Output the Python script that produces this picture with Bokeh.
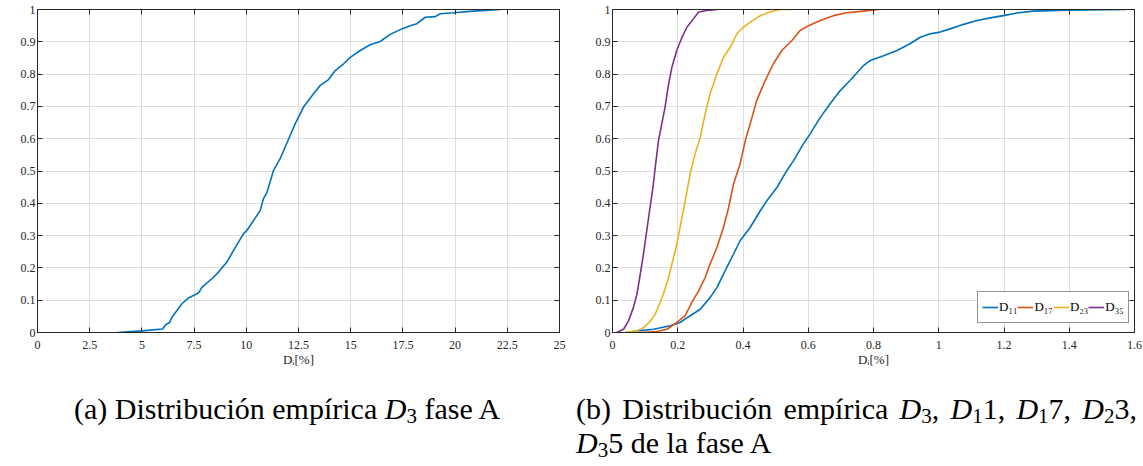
import math
from bokeh.plotting import figure
from bokeh.models import (Range1d, FixedTicker, LinearAxis, Label, Legend, LegendItem, Div)
from bokeh.layouts import row, column
from bokeh.embed import file_html
from bokeh.resources import INLINE

# ---------------- data ----------------
y_ticks = [0, 0.1, 0.2, 0.3, 0.4, 0.5, 0.6, 0.7, 0.8, 0.9, 1]
y_tick_labels = ["0", "0.1", "0.2", "0.3", "0.4", "0.5", "0.6", "0.7", "0.8", "0.9", "1"]

xa_ticks = [0, 2.5, 5, 7.5, 10, 12.5, 15, 17.5, 20, 22.5, 25]
xa_tick_labels = ["0", "2.5", "5", "7.5", "10", "12.5", "15", "17.5", "20", "22.5", "25"]

xb_ticks = [0, 0.2, 0.4, 0.6, 0.8, 1, 1.2, 1.4, 1.6]
xb_tick_labels = ["0", "0.2", "0.4", "0.6", "0.8", "1", "1.2", "1.4", "1.6"]

d3_x = [3.83, 5.0, 5.99, 6.15, 6.31, 6.44, 6.92, 7.23, 7.71, 7.87, 8.43, 8.67, 9.07, 9.39,
        9.87, 10.03, 10.67, 10.82, 10.99, 11.30, 11.62, 12.10, 12.34, 12.74, 13.22, 13.54,
        13.94, 14.26, 14.66, 14.98, 15.46, 15.93, 16.41, 16.89, 17.45, 17.85, 18.17, 18.57,
        19.05, 19.29, 19.92, 20.88, 22.16]
d3_y = [0.0, 0.005, 0.011, 0.025, 0.03, 0.047, 0.089, 0.107, 0.122, 0.14, 0.171, 0.187,
        0.218, 0.254, 0.306, 0.316, 0.378, 0.414, 0.434, 0.501, 0.538, 0.61, 0.646, 0.698,
        0.739, 0.765, 0.783, 0.811, 0.832, 0.852, 0.873, 0.891, 0.901, 0.923, 0.94, 0.95,
        0.956, 0.976, 0.978, 0.987, 0.99, 0.995, 1.0]

d11_x = [0.044, 0.075, 0.126, 0.177, 0.207, 0.238, 0.269, 0.299, 0.32, 0.345, 0.371, 0.391,
         0.422, 0.453, 0.473, 0.504, 0.534, 0.555, 0.585, 0.606, 0.637, 0.667, 0.698, 0.728,
         0.769, 0.79, 0.831, 0.872, 0.912, 0.943, 0.974, 1.004, 1.035, 1.076, 1.117, 1.158,
         1.198, 1.24, 1.29, 1.393, 1.575]
d11_y = [0, 0.005, 0.01, 0.021, 0.031, 0.052, 0.072, 0.108, 0.139, 0.191, 0.243, 0.284,
         0.325, 0.377, 0.408, 0.449, 0.501, 0.532, 0.584, 0.615, 0.666, 0.708, 0.749, 0.78,
         0.826, 0.842, 0.857, 0.873, 0.894, 0.914, 0.925, 0.93, 0.94, 0.954, 0.966, 0.974,
         0.981, 0.989, 0.995, 0.998, 1.0]

d17_x = [0.085, 0.136, 0.167, 0.197, 0.223, 0.243, 0.264, 0.284, 0.299, 0.32, 0.34, 0.356,
         0.371, 0.391, 0.407, 0.422, 0.442, 0.468, 0.493, 0.519, 0.55, 0.575, 0.601, 0.637,
         0.677, 0.718, 0.769, 0.815]
d17_y = [0, 0.003, 0.01, 0.031, 0.052, 0.093, 0.129, 0.17, 0.212, 0.263, 0.325, 0.387,
         0.46, 0.522, 0.594, 0.646, 0.718, 0.78, 0.832, 0.873, 0.904, 0.935, 0.95, 0.966,
         0.981, 0.99, 0.995, 1.0]

d23_x = [0.039, 0.075, 0.095, 0.115, 0.131, 0.146, 0.156, 0.172, 0.182, 0.195, 0.207, 0.223,
         0.238, 0.253, 0.269, 0.284, 0.299, 0.32, 0.34, 0.361, 0.381, 0.401, 0.422, 0.453,
         0.483, 0.514, 0.55]
d23_y = [0, 0.005, 0.015, 0.034, 0.057, 0.093, 0.119, 0.17, 0.212, 0.263, 0.325, 0.408,
         0.491, 0.553, 0.604, 0.677, 0.739, 0.8, 0.852, 0.883, 0.925, 0.945, 0.961, 0.981,
         0.992, 1.0, 1.0]

d35_x = [0.013, 0.034, 0.049, 0.064, 0.075, 0.085, 0.095, 0.105, 0.115, 0.124, 0.131, 0.141,
         0.151, 0.161, 0.172, 0.182, 0.197, 0.213, 0.228, 0.248, 0.264, 0.289, 0.32]
d35_y = [0, 0.01, 0.036, 0.077, 0.119, 0.181, 0.243, 0.315, 0.387, 0.449, 0.511, 0.594,
         0.646, 0.697, 0.77, 0.821, 0.873, 0.914, 0.945, 0.971, 0.992, 0.997, 1.0]

series_b_names = ["D₁₁", "D₁₇", "D₂₃", "D₃₅"]
series_b_colors = ["#0072BD", "#D95319", "#EDB120", "#7E2F8E"]

y_title = "Distribución empírica acumulada"
x_title = "Dᵢ[%]"

# ---------------- styling ----------------
AX = "#262626"
GRID = "#dedede"
FONT = "Liberation Serif"
FIG_H = 372
FRAME_H = 323
FRAME_W = 522


def hidden_axis(ticks):
    return LinearAxis(ticker=FixedTicker(ticks=ticks), major_label_text_font_size="0px",
                      major_label_text_color=None, major_label_standoff=0,
                      major_tick_in=5, major_tick_out=0, minor_tick_in=0, minor_tick_out=0,
                      axis_line_color=AX, major_tick_line_color=AX)


def make_fig(width, bl, xr, xticks, xlabels, ylab_x):
    p = figure(width=width, height=FIG_H, x_range=Range1d(*xr), y_range=Range1d(0, 1),
               output_backend="svg", toolbar_location=None,
               min_border_left=bl, min_border_right=width - bl - FRAME_W, min_border_top=9,
               min_border_bottom=FIG_H - 9 - FRAME_H)
    p.background_fill_color = "white"
    p.border_fill_color = "white"
    p.outline_line_color = AX
    p.outline_line_width = 1

    xa = p.below[0]
    ya = p.left[0]
    xa.ticker = FixedTicker(ticks=xticks)
    xa.major_label_overrides = dict(zip(xticks, xlabels))
    ya.ticker = FixedTicker(ticks=y_ticks)
    ya.major_label_overrides = dict(zip(y_ticks, y_tick_labels))
    for ax in (xa, ya):
        ax.major_tick_in = 5
        ax.major_tick_out = 0
        ax.minor_tick_in = 0
        ax.minor_tick_out = 0
        ax.axis_line_color = AX
        ax.major_tick_line_color = AX
        ax.major_label_text_font = FONT
        ax.major_label_text_font_size = "12px"
        ax.major_label_text_color = AX
    xa.major_label_standoff = 8
    ya.major_label_standoff = 2
    xa.axis_label = x_title
    xa.axis_label_text_font = FONT
    xa.axis_label_text_font_size = "13px"
    xa.axis_label_text_font_style = "normal"
    xa.axis_label_text_color = AX
    xa.axis_label_standoff = 0

    p.add_layout(hidden_axis(xticks), "above")
    p.add_layout(hidden_axis(y_ticks), "right")

    p.xgrid.grid_line_color = GRID
    p.ygrid.grid_line_color = GRID
    p.xgrid.grid_line_width = 1
    p.ygrid.grid_line_width = 1

    lab = Label(x=ylab_x, y=160, x_units="screen", y_units="screen", text=y_title,
                angle=math.pi / 2, text_align="center", text_baseline="middle",
                text_font=FONT, text_font_size="13px", text_font_style="bold",
                text_color=AX)
    p.add_layout(lab)
    return p


# left figure: page x 0..584, frame 37..559
p1 = make_fig(584, 37, (0, 25), xa_ticks, xa_tick_labels, -23)
p1.line(d3_x, d3_y, line_color="#0072BD", line_width=1.6)

# right figure: page x 584..1143, frame 612..1134
p2 = make_fig(559, 28, (0, 1.6), xb_ticks, xb_tick_labels, -22)
rs = []
for xs, ys, c in zip([d11_x, d17_x, d23_x, d35_x], [d11_y, d17_y, d23_y, d35_y], series_b_colors):
    rs.append(p2.line(xs, ys, line_color=c, line_width=1.6))

legend = Legend(items=[LegendItem(label=n, renderers=[r]) for n, r in zip(series_b_names, rs)],
                orientation="horizontal", location=(365, 9), margin=0,
                border_line_color=AX, border_line_width=1, background_fill_color="white",
                background_fill_alpha=1, label_text_font=FONT, label_text_font_size="13px",
                label_text_color="black", glyph_width=16, glyph_height=22, label_standoff=1,
                spacing=0, padding=4, label_width=10)
p2.add_layout(legend)

CAP_FONT = ("font-family:'Liberation Serif', 'DejaVu Serif', serif; font-size:30px; "
            "line-height:34px; color:#000;")
SUB = "<span style='font-size:0.7em; position:relative; top:0.2em; line-height:0;'>{}</span>"


def dsub(s):
    return "<i>D</i>" + SUB.format(s)


cap_a = ("<div style=\"position:absolute; left:74px; top:20px; white-space:nowrap; "
         + CAP_FONT + "\">(a) Distribución empírica " + dsub("3") + " fase A</div>")
cap_b = ("<div style=\"position:absolute; left:576px; top:20px; width:561px; " + CAP_FONT + "\">"
         "<div style='text-align:justify; text-align-last:justify; white-space:nowrap;'>"
         "(b) Distribución empírica "
         + dsub("3") + ", " + dsub("1") + "1, " + dsub("1") + "7, " + dsub("2") + "3,</div>"
         "<div style='white-space:nowrap;'>" + dsub("3") + "5 de la fase A</div></div>")

captions = Div(text="<div style='position:relative; width:1143px; height:94px;'>"
               + cap_a + cap_b + "</div>", width=1143, height=94, margin=0)

layout = column(row(p1, p2), captions)

open("out.html", "w").write(file_html(layout, INLINE))
